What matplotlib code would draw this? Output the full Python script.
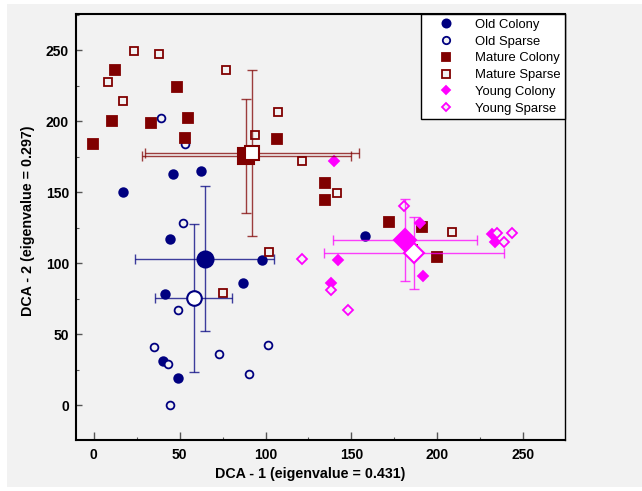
import matplotlib
matplotlib.use("Agg")
import matplotlib.pyplot as plt
from matplotlib.patches import Rectangle
from matplotlib.ticker import MultipleLocator

plt.rcParams['font.family'] = ['Liberation Sans', 'DejaVu Sans']

# site scores
oc_x = [46.3, 62.3, 17.2, 44.2, 98.1, 87.1, 41.5, 40.1, 49.2, 158.0]
oc_y = [162.5, 165.0, 150.0, 117.1, 102.1, 86.1, 78.2, 31.2, 19.0, 119.2]
os_x = [52.1, 49.2, 35.2, 43.2, 73.1, 101.3, 90.2, 44.2, 39.1, 53.3]
os_y = [128.2, 66.9, 41.1, 29.1, 36.1, 42.3, 22.1, 0.0, 202.1, 183.8]
mc_x = [12.3, 48.3, 10.4, 33.3, 55.0, -0.6, 53.1, 106.9, 134.8, 134.8, 171.7, 191.0, 199.7]
mc_y = [236.1, 224.2, 200.0, 198.4, 202.1, 184.0, 187.8, 187.1, 156.1, 144.1, 129.1, 125.1, 104.0]
ms_x = [23.4, 38.2, 8.4, 17.2, 77.2, 107.1, 94.1, 121.1, 141.8, 102.0, 75.1, 208.6, 185.7]
ms_y = [249.3, 247.2, 227.2, 214.3, 236.1, 206.1, 190.1, 172.0, 149.1, 108.0, 79.1, 122.1, 110.0]
yc_x = [139.9, 190.0, 142.0, 138.0, 191.9, 231.9, 233.7]
yc_y = [171.8, 128.0, 101.9, 86.1, 91.0, 120.4, 115.0]
ys_x = [180.7, 121.1, 138.0, 148.0, 234.7, 238.7, 243.7]
ys_y = [140.1, 103.0, 80.8, 66.9, 121.3, 115.0, 120.9]

# group centroids and standard deviations
groups = ["Old Colony", "Old Sparse", "Mature Colony", "Mature Sparse", "Young Colony", "Young Sparse"]
mean_x = [64.5, 58.2, 88.7, 92.3, 181.1, 186.6]
mean_y = [103.2, 75.2, 175.2, 177.6, 116.2, 106.8]
sd_x = [40.4, 22.4, 60.8, 62.3, 42.0, 52.5]
sd_y = [50.8, 52.0, 40.0, 58.3, 28.9, 25.3]

navy = "#000080"
dred = "#800000"
mag = "#ff00ff"
bg = "#f2f2f2"

fig = plt.figure(figsize=(6.42, 4.91), dpi=100, facecolor="white")
fig.patches.append(Rectangle((7 / 642, 4 / 491), 635 / 642, 483 / 491,
                             transform=fig.transFigure, facecolor=bg, edgecolor="none", zorder=-10))
ax = fig.add_axes([76 / 642, 51 / 491, 489 / 642, 426 / 491])
ax.set_facecolor(bg)

pts = [
    (oc_x, oc_y, "o", navy, True, 6.2, "Old Colony"),
    (os_x, os_y, "o", navy, False, 5.6, "Old Sparse"),
    (mc_x, mc_y, "s", dred, True, 6.6, "Mature Colony"),
    (ms_x, ms_y, "s", dred, False, 6.3, "Mature Sparse"),
    (yc_x, yc_y, "D", mag, True, 4.7, "Young Colony"),
    (ys_x, ys_y, "D", mag, False, 4.8, "Young Sparse"),
]
for x, y, m, c, filled, ms, lab in pts:
    ax.plot(x, y, ls="none", marker=m, ms=ms, color=c,
            mfc=c if filled else bg, mec=c, mew=1.3, label=lab, zorder=3)

colors = [navy, navy, dred, dred, mag, mag]
marks = ["o", "o", "s", "s", "D", "D"]
big = [11.5, 10.5, 11.5, 10.0, 10.8, 10.4]
for i in range(len(groups)):
    ax.errorbar(mean_x[i], mean_y[i], xerr=sd_x[i], yerr=sd_y[i], fmt="none",
                ecolor=colors[i], elinewidth=1.0, capsize=3.5, capthick=1.0, alpha=0.75, zorder=4)
for i in range(len(groups)):
    filled = "Colony" in groups[i]
    ax.plot(mean_x[i], mean_y[i], ls="none", marker=marks[i], ms=big[i], color=colors[i],
            mfc=colors[i] if filled else "white", mec=colors[i], mew=1.5, zorder=5)

ax.set_xlim(-10.4, 274.4)
ax.set_ylim(-24.6, 275.4)
ax.xaxis.set_major_locator(MultipleLocator(50))
ax.xaxis.set_minor_locator(MultipleLocator(25))
ax.yaxis.set_major_locator(MultipleLocator(50))
ax.yaxis.set_minor_locator(MultipleLocator(25))
ax.tick_params(axis="x", which="major", direction="in", length=5.5, width=1, color="#555555", pad=6)
ax.tick_params(axis="y", which="major", direction="in", length=4, width=1, color="#555555", pad=5)
ax.tick_params(which="minor", direction="in", length=2.5, width=0.8, color="#555555")
for lab in ax.get_xticklabels() + ax.get_yticklabels():
    lab.set_fontweight("bold")
    lab.set_fontsize(10)
for side in ["left", "bottom", "top"]:
    ax.spines[side].set_linewidth(1.5)
ax.spines["right"].set_linewidth(1.0)

ax.set_xlabel("DCA - 1 (eigenvalue = 0.431)", fontsize=10.3, fontweight="bold")
ax.set_ylabel("DCA - 2 (eigenvalue = 0.297)", fontsize=10.3, fontweight="bold")
ax.xaxis.set_label_coords(0.479, -0.064)
ax.yaxis.set_label_coords(-0.084, 0.514)

leg = ax.legend(loc="upper right", bbox_to_anchor=(1.0, 1.0), borderaxespad=0, fontsize=9.4,
                fancybox=False, edgecolor="black", facecolor="white", framealpha=1,
                borderpad=0.35, labelspacing=0.36, handlelength=3.2, handletextpad=0.6,
                markerscale=0.95)
leg.get_frame().set_linewidth(1.0)

fig.savefig("out.png", dpi=100, facecolor=fig.get_facecolor())
